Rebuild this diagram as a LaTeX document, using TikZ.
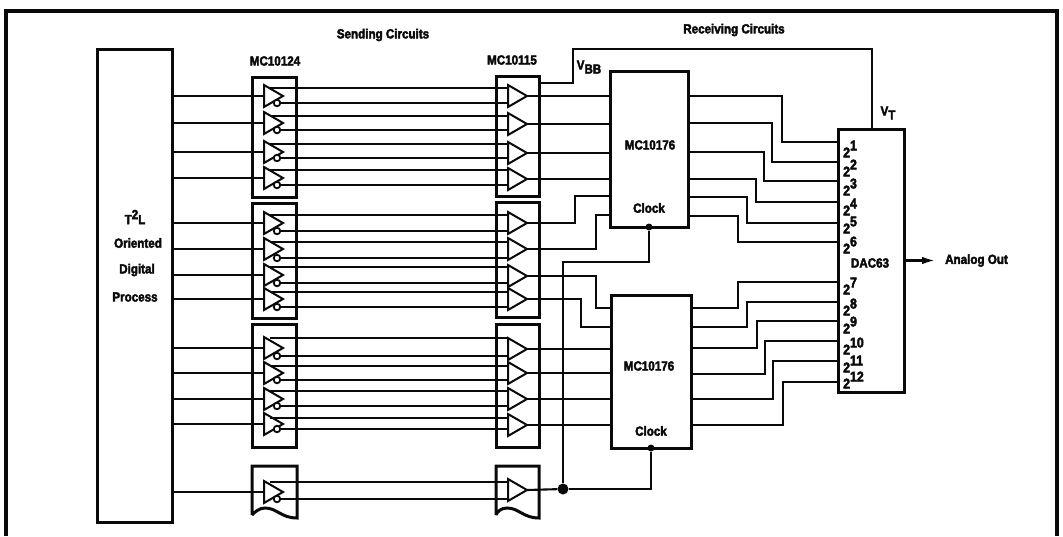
\documentclass[tikz,border=0pt]{standalone}
\usepackage{fontspec}
\setmainfont[FakeBold=3,FakeStretch=0.88]{Liberation Sans Bold}
\usepackage{xcolor}
\usetikzlibrary{arrows.meta,positioning,shapes.geometric}
\definecolor{inkblack}{HTML}{0A0A0A}
\newcommand{\pwr}[1]{2\raisebox{7pt}{#1}}

\begin{document}
\begin{tikzpicture}[x=1pt, y=-1pt, color=inkblack,
  block/.style={draw, line width=3pt, inner sep=0pt, outer sep=0pt},
  wire/.style={line width=2.1pt},
  arr/.style={-{Latex[length=4.5mm, width=2.6mm]}, line width=2.1pt},
  gate/.style={draw, fill=white, line width=2pt, isosceles triangle,
               isosceles triangle stretches, shape border rotate=0,
               minimum width=22pt, minimum height=19pt, inner sep=0pt,
               outer sep=0pt, anchor=lower side},
  bubble/.style={draw, fill=white, circle, line width=1.8pt,
                 minimum size=6.5pt, inner sep=0pt},
  dot/.style={fill, circle, inner sep=0pt},
  lbl/.style={font=\fontsize{13.2}{14}\selectfont, inner sep=0pt},
  bit/.style={font=\fontsize{14}{15}\selectfont, inner sep=0pt, anchor=west}]
\useasboundingbox (0,0) rectangle (1063,536);
% outer frame
\draw[line width=4pt] (6,536) -- (6,11) -- (1057,11) -- (1057,536);

% large blocks
\node[block, minimum width=75pt, minimum height=473pt] (t2l) at (134.5,285.5) {};
\node[block, minimum width=78pt, minimum height=156pt] (recvA) at (649,149) {};
\node[block, minimum width=80pt, minimum height=153pt] (recvB) at (651,371.5) {};
\node[block, minimum width=66pt, minimum height=263pt] (dac) at (871,260.5) {};

% buffer packages
\node[block, minimum width=44pt, minimum height=120pt] (drvA) at (274,137) {};
\node[block, minimum width=44pt, minimum height=115pt] (drvB) at (274,260.5) {};
\node[block, minimum width=44pt, minimum height=123pt] (drvC) at (274,385.5) {};
\node[block, minimum width=43pt, minimum height=120pt] (rcvA) at (517.5,136) {};
\node[block, minimum width=43pt, minimum height=115pt] (rcvB) at (517.5,259.5) {};
\node[block, minimum width=43pt, minimum height=123pt] (rcvC) at (517.5,385.5) {};
\foreach \x/\w in {252/45,496/43}
  \draw[line width=3pt] (\x,515) -- (\x,466) -- (\x+\w,466) -- (\x+\w,518)
    .. controls (\x+\w-16,518) and (\x+\w-20,508) .. (\x+\w-32,508)
    .. controls (\x+\w-38,508) and (\x+\w-42,512) .. (\x,515);

% one pass per line: number / input y / upper y / lower y / receiver y
\foreach \i/\y/\a/\b/\r in {1/96/88/103/96, 2/123/116/130/124, 3/152/144/158/153,
    4/178/170/185/179, 5/223/215/231/223, 6/249/242/258/249, 7/275/267/283/276,
    8/299/292/307/299, 9/348/338/356/349, 10/373/366/380/373, 11/399/391/406/399,
    12/424/418/429/425, 13/492/482/499/490} {
  \coordinate (top\i) at (270,\a);
  \node[gate] (tx\i) at (264,\y) {};
  \node[gate] (rx\i) at (508,\r) {};
  \node[bubble] (bub\i) at (277,\b) {};
  \draw[wire] (t2l.east |- tx\i.lower side) -- (tx\i.lower side);
  \draw[wire] (top\i) -- (rx\i.lower side |- top\i);
  \draw[wire] (bub\i) -- (rx\i.lower side |- bub\i);
}

% receivers into the latches
\foreach \i in {1,2,3,4}
  \draw[wire] (rx\i.apex) -- (recvA.west |- rx\i.apex);
\foreach \i in {9,10,11,12}
  \draw[wire] (rx\i.apex) -- (recvB.west |- rx\i.apex);
\draw[wire] (rx5.apex) -- (575,223) -- (575,196) -- (recvA.west |- 0,196);
\draw[wire] (rx6.apex) -- (596,249) -- (596,215) -- (recvA.west |- 0,215);
\draw[wire] (rx7.apex) -- (596,276) -- (596,308) -- (recvB.west |- 0,308);
\draw[wire] (rx8.apex) -- (581,299) -- (581,327) -- (recvB.west |- 0,327);

% latches into the converter
\foreach \a/\x/\b in {96/782/142, 123/772/162, 152/764/181, 179/756/202, 197/747/223, 216/738/242}
  \draw[wire] (recvA.east |- 0,\a) -- (\x,\a) -- (\x,\b) -- (dac.west |- 0,\b);
\foreach \a/\x/\b in {308/738/282, 327/747/302, 348/757/321, 374/765/341, 399/773/361, 425/783/382}
  \draw[wire] (recvB.east |- 0,\a) -- (\x,\a) -- (\x,\b) -- (dac.west |- 0,\b);

% clock
\node[dot, minimum size=11pt] (clkjoin) at (563,489) {};
\node[dot, minimum size=7pt] (clkA) at (649,227) {};
\node[dot, minimum size=7pt] (clkB) at (651,448) {};
\draw[wire] (rx13.apex) -- (clkjoin);
\draw[wire] (clkjoin) -- (563,262) -- (649,262) -- (clkA);
\draw[wire] (clkjoin) -- (651,489) -- (clkB);

% reference line
\draw[wire] (rcvA.east |- 0,83) -- (573,83) -- (573,49) -- (872,49) -- (dac.north -| 872,0);

% analog output
\node[lbl, right=41pt of dac.east] (analog) {Analog Out};
\draw[arr] (dac.east) -- (935,260.5);

% labels
\node[lbl] (sending) at (383,35) {Sending Circuits};
\node[lbl] (receiving) at (734,30) {Receiving Circuits};
\node[lbl] (drvname) at (275,61) {MC10124};
\node[lbl] (rcvname) at (512,60) {MC10115};
\node[lbl] (latchA) at (650,145) {MC10176};
\node[lbl] (latchB) at (649,366) {MC10176};
\node[lbl] (clockA) at (649,208) {Clock};
\node[lbl] (clockB) at (651,431) {Clock};
\node[lbl] (dacname) at (870,263) {DAC63};
\node[lbl] (vbb) at (589,67) {V\raisebox{-4pt}{BB}};
\node[lbl] (vt) at (888,113) {V\raisebox{-4pt}{T}};
\node[lbl] (ttl) at (135,217) {T\raisebox{5pt}{2}L};
\node[lbl] (oriented) at (138,243) {Oriented};
\node[lbl] (digital) at (137,270) {Digital};
\node[lbl] (process) at (135,297) {Process};
\foreach \n/\y in {1/149,2/168,3/187,4/207,5/225,6/245,7/286,8/307,9/325,10/346,11/364,12/380}
  \node[bit] (bit\n) at (843,\y) {\pwr{\n}};
\end{tikzpicture}
\end{document}
